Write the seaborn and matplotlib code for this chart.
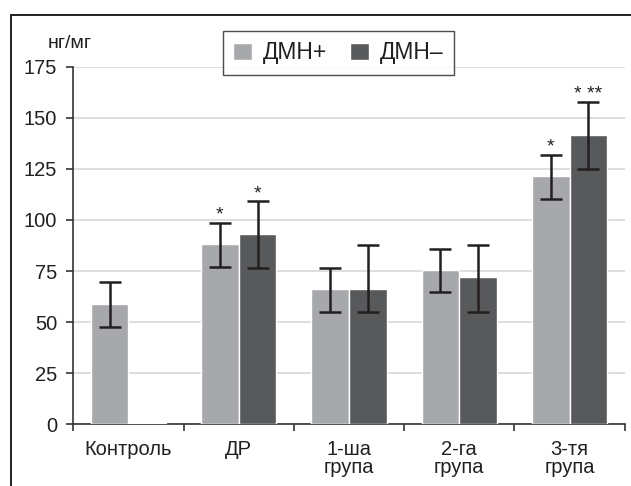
import matplotlib
matplotlib.use("Agg")
import matplotlib.pyplot as plt
from matplotlib.patches import Rectangle
from matplotlib.ticker import FixedLocator, NullFormatter
import seaborn as sns
import pandas as pd
import numpy as np

# ---- data ----
categories = ["Контроль", "ДР", "1-ша\nгрупа", "2-га\nгрупа", "3-тя\nгрупа"]
series_names = ["ДМН+", "ДМН–"]
dmn_plus = [59.0, 88.3, 66.2, 75.5, 121.5]
dmn_minus = [0.6, 93.0, 66.2, 72.1, 141.6]
dmn_plus_err_low = [11.4, 11.2, 11.1, 10.9, 11.4]
dmn_plus_err_high = [10.5, 10.4, 10.5, 10.5, 10.3]
dmn_minus_err_low = [np.nan, 16.6, 11.4, 17.0, 16.8]
dmn_minus_err_high = [np.nan, 16.1, 21.4, 15.7, 16.2]
dmn_plus_marks = ["", "*", "", "", "*"]
dmn_minus_marks = ["", "*", "", "", "* **"]
y_ticks = [0, 25, 50, 75, 100, 125, 150, 175]
y_unit = "нг/мг"

df = pd.DataFrame({
    "group": categories * 2,
    "series": [series_names[0]] * 5 + [series_names[1]] * 5,
    "value": dmn_plus + dmn_minus,
})

light = "#a7a8ac"
dark = "#58595b"
ink = "#231f20"

sns.set_theme(style="white")
plt.rcParams["font.family"] = ["Liberation Sans", "DejaVu Sans"]

W, H = 631, 486
fig = plt.figure(figsize=(W / 100, H / 100), dpi=100)
ax = fig.add_axes([73.3 / W, 1 - 424.3 / H, (624.7 - 73.3) / W, (424.3 - 66.7) / H])

sns.barplot(data=df, x="group", y="value", hue="series", order=categories,
            hue_order=series_names, palette=[light, dark], width=0.684, gap=0,
            errorbar=None, saturation=1, ax=ax, legend=True, zorder=2)

ax.set_ylim(0, 175)
ax.set_xlim(-0.5, 4.5)
ax.set_yticks(y_ticks)
ax.yaxis.grid(True, color="#d4d4d4", linewidth=1.1, zorder=0)
ax.set_axisbelow(True)
ax.set_xlabel("")
ax.set_ylabel("")

# error bars and significance marks from bar patches
bars = [p for p in ax.patches if p.get_width() > 0][:10]
bars_plus = sorted(bars[:5], key=lambda p: p.get_x())
bars_minus = sorted(bars[5:10], key=lambda p: p.get_x())
for p in bars:
    p.set_zorder(3)
for blist, vals, lo, hi, marks in [
    (bars_plus, dmn_plus, dmn_plus_err_low, dmn_plus_err_high, dmn_plus_marks),
    (bars_minus, dmn_minus, dmn_minus_err_low, dmn_minus_err_high, dmn_minus_marks),
]:
    xs = [p.get_x() + p.get_width() / 2 for p in blist]
    ax.errorbar(xs, vals, yerr=[lo, hi], fmt="none", ecolor=ink,
                elinewidth=1.8, capsize=8, capthick=1.8, zorder=4)
    for x, v, h, m in zip(xs, vals, hi, marks):
        if m:
            ax.text(x, v + h + 1.5, m, ha="center", va="baseline",
                    fontsize=14, color=ink, zorder=5)

# x axis: ticks at category boundaries, labels at centres
ax.xaxis.set_major_locator(FixedLocator(np.arange(-0.5, 5.0, 1.0)))
ax.xaxis.set_major_formatter(NullFormatter())
ax.xaxis.set_minor_locator(FixedLocator(np.arange(0, 5)))
ax.set_xticklabels(categories, minor=True)
ax.tick_params(axis="x", which="major", direction="out", length=5, width=1.2,
               color="#333333", bottom=True)
ax.tick_params(axis="x", which="minor", length=0, pad=11, labelsize=14.5,
               labelcolor=ink)
for lbl in ax.get_xticklabels(minor=True):
    lbl.set_linespacing(0.95)
    lbl.set_verticalalignment("top")
ax.tick_params(axis="y", direction="out", length=5, width=1.2, color="#333333",
               left=True, pad=6.5, labelsize=14.5, labelcolor=ink)

for s in ["top", "right"]:
    ax.spines[s].set_visible(False)
for s in ["left", "bottom"]:
    ax.spines[s].set_color("#333333")
    ax.spines[s].set_linewidth(1.2)
    ax.spines[s].set_zorder(2.5)

fig.text(70 / W, 1 - 43 / H, y_unit, ha="center", va="center", fontsize=14,
         color=ink)

# legend
handles, labels = ax.get_legend_handles_labels()
ax.legend_.remove()
leg = fig.legend(handles, labels, loc="center", ncol=2,
                 bbox_to_anchor=(338.5 / W, 1 - 53 / H),
                 bbox_transform=fig.transFigure, frameon=True, fancybox=False,
                 fontsize=16.5, handlelength=0.8, handleheight=0.8,
                 handletextpad=0.5, columnspacing=1.0, borderpad=0.45,
                 borderaxespad=0)
leg.get_frame().set_edgecolor(ink)
leg.get_frame().set_linewidth(1.0)
for t in leg.get_texts():
    t.set_color(ink)

# outer frame (clipped at right and bottom)
fig.patches.append(Rectangle((10.5 / W, -0.2), 1.2, 0.2 + (1 - 15 / H),
                             transform=fig.transFigure, fill=False,
                             edgecolor=ink, linewidth=1.4, clip_on=False))

fig.savefig("out.png", dpi=100)
